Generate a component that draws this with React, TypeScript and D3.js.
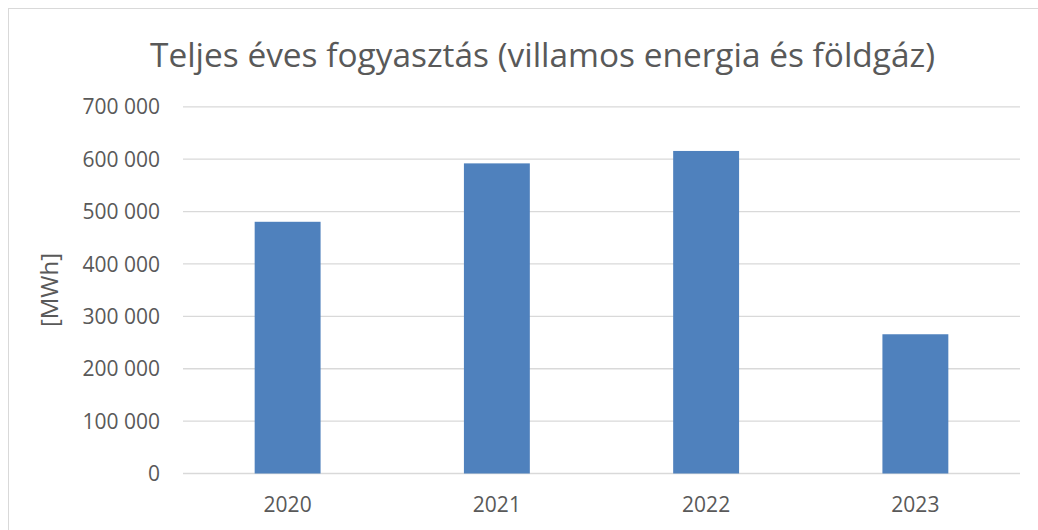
import React, { useEffect, useRef } from 'react'
import * as d3 from 'd3'

const years = ['2020', '2021', '2022', '2023']
const consumption = [480500, 592000, 615700, 265800]
const yTicks = [0, 100000, 200000, 300000, 400000, 500000, 600000, 700000]
const title = 'Teljes éves fogyasztás (villamos energia és földgáz)'
const yLabel = '[MWh]'

const App = () => {
	const ref = useRef<SVGSVGElement>(null)
	const width = 1038,
		height = 530

	useEffect(() => {
		const svg = d3.select(ref.current)
		svg.selectAll('*').remove()

		const left = 183,
			right = 1020,
			top = 106.8,
			bottom = 473.5
		const textColor = '#595959'
		const font = "'Open Sans', sans-serif"

		const x = d3
			.scaleBand()
			.domain(years)
			.range([left, right])
			.paddingInner(0.685)
			.paddingOuter(0.3425)
		const y = d3.scaleLinear().domain([0, 700000]).range([bottom, top])

		const hu = d3.formatLocale({ decimal: ',', thousands: ' ', grouping: [3], currency: ['', ''] })
		const fmt = hu.format(',')

		// keret
		svg
			.append('rect')
			.attr('x', 8.5)
			.attr('y', 8.5)
			.attr('width', 1100)
			.attr('height', 600)
			.attr('fill', 'white')
			.attr('stroke', '#d9d9d9')
			.attr('stroke-width', 1)

		// rácsvonalak
		svg
			.append('g')
			.selectAll('line')
			.data(yTicks)
			.enter()
			.append('line')
			.attr('x1', left)
			.attr('x2', right)
			.attr('y1', d => y(d))
			.attr('y2', d => y(d))
			.attr('stroke', '#d9d9d9')
			.attr('stroke-width', 1.3)

		// y tengely feliratok
		svg
			.append('g')
			.selectAll('text')
			.data(yTicks)
			.enter()
			.append('text')
			.text(d => fmt(d))
			.attr('x', 160)
			.attr('y', d => y(d))
			.attr('dy', '0.36em')
			.attr('text-anchor', 'end')
			.attr('fill', textColor)
			.style('font-family', font)
			.style('font-size', '21px')

		// oszlopok
		svg
			.append('g')
			.selectAll('rect')
			.data(consumption)
			.enter()
			.append('rect')
			.attr('x', (d, i) => x(years[i]))
			.attr('width', x.bandwidth())
			.attr('y', d => y(d))
			.attr('height', d => bottom - y(d))
			.attr('fill', '#4f81bd')

		// x tengely feliratok
		svg
			.append('g')
			.selectAll('text')
			.data(years)
			.enter()
			.append('text')
			.text(d => d)
			.attr('x', d => x(d) + x.bandwidth() / 2)
			.attr('y', 512)
			.attr('text-anchor', 'middle')
			.attr('fill', textColor)
			.style('font-family', font)
			.style('font-size', '21px')

		// cím
		svg
			.append('text')
			.text(title)
			.attr('x', 542.5)
			.attr('y', 67)
			.attr('text-anchor', 'middle')
			.attr('textLength', 785)
			.attr('lengthAdjust', 'spacingAndGlyphs')
			.attr('fill', textColor)
			.style('font-family', font)
			.style('font-size', '33px')

		// mértékegység
		svg
			.append('text')
			.text(yLabel)
			.attr('transform', 'translate(58,290) rotate(-90)')
			.attr('text-anchor', 'middle')
			.attr('fill', textColor)
			.style('font-family', font)
			.style('font-size', '24px')
	}, [])

	return (
		<svg
			ref={ref}
			width={width}
			height={height}
			style={{ position: 'absolute', left: 0, top: 0, display: 'block' }}
		></svg>
	)
}

export default App
